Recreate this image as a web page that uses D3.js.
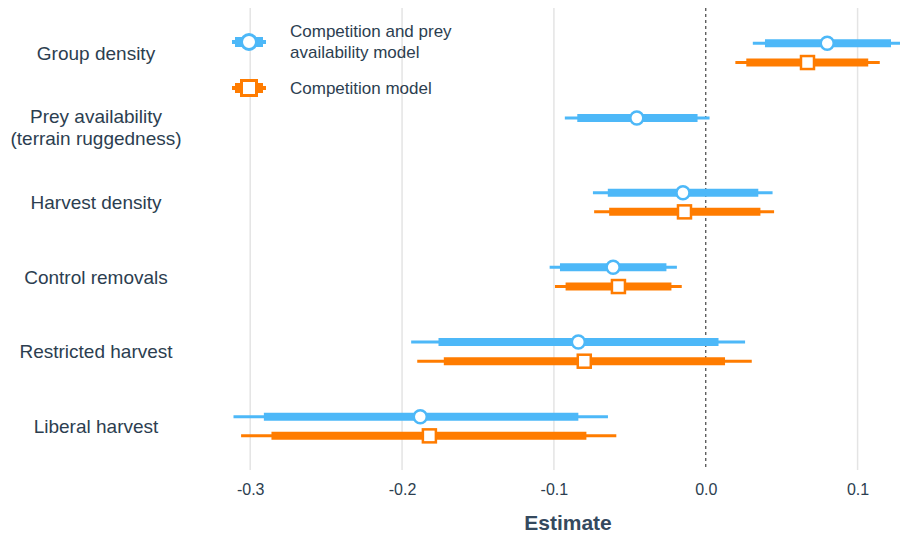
<!DOCTYPE html>
<html>
<head>
<meta charset="utf-8">
<script src="https://cdn.jsdelivr.net/npm/d3@7"></script>
<style>
  html, body { margin: 0; padding: 0; background: #fff; }
  svg { display: block; font-family: "Liberation Sans", Arial, sans-serif; }
</style>
</head>
<body>
<svg id="chart" width="900" height="539"></svg>
<script>
// Predictor labels (top to bottom); multi-line labels split on "\n"
const categories = [
  "Group density",
  "Prey availability\n(terrain ruggedness)",
  "Harvest density",
  "Control removals",
  "Restricted harvest",
  "Liberal harvest"
];

const models = ["Competition and prey availability model", "Competition model"];
const legendLines = [["Competition and prey", "availability model"], ["Competition model"]];
const modelColors = ["#4db8f8", "#ff7c00"];

// Full model: estimate, inner interval (thick), outer interval (thin)
const fullEstimate = [0.080, -0.0454, -0.0150, -0.0610, -0.0839, -0.1880];
const fullInnerLo  = [0.039, -0.0846, -0.0645, -0.0960, -0.1760, -0.2910];
const fullInnerHi  = [0.122, -0.0054,  0.0346, -0.0259,  0.0084, -0.0839];
const fullOuterLo  = [0.031, -0.0928, -0.0743, -0.1028, -0.1940, -0.3110];
const fullOuterHi  = [0.132,  0.0025,  0.0440, -0.0190,  0.0259, -0.0644];

// Competition-only model (no prey availability term)
const compEstimate = [0.067, null, -0.0140, -0.0575, -0.0800, -0.1820];
const compInnerLo  = [0.0267, null, -0.0636, -0.0923, -0.1725, -0.2860];
const compInnerHi  = [0.107,  null,  0.0360, -0.0226,  0.0127, -0.0786];
const compOuterLo  = [0.0195, null, -0.0735, -0.0993, -0.1900, -0.3060];
const compOuterHi  = [0.1146, null,  0.0450, -0.0158,  0.0303, -0.0589];

const xTicks = [-0.3, -0.2, -0.1, 0.0, 0.1];
const xTickLabels = ["-0.3", "-0.2", "-0.1", "0.0", "0.1"];

const svg = d3.select("#chart");
const textColor = "#2c3e50";

const x = d3.scaleLinear().domain([-0.3, 0.1]).range([250.2, 857.6]);
const y = d3.scaleBand().domain(categories).range([15.6, 463.6]);
const offset = d3.scaleOrdinal().domain(models).range([-9.6, 9.6]);

const plotTop = 8, plotBottom = 470;

// vertical gridlines
svg.append("g").selectAll("line").data(xTicks.filter(d => d !== 0)).join("line")
  .attr("x1", d => x(d)).attr("x2", d => x(d))
  .attr("y1", plotTop).attr("y2", plotBottom)
  .attr("stroke", "#e4e4e4").attr("stroke-width", 1.5);

// zero reference line
svg.append("line")
  .attr("x1", x(0)).attr("x2", x(0)).attr("y1", plotTop).attr("y2", plotBottom)
  .attr("stroke", "#444").attr("stroke-width", 1.2).attr("stroke-dasharray", "3,3");

// x axis (labels only)
const xAxis = d3.axisBottom(x).tickValues(xTicks)
  .tickFormat((d, i) => xTickLabels[i]).tickSize(0).tickPadding(0);
const gx = svg.append("g").attr("transform", `translate(0,${484})`).call(xAxis);
gx.select(".domain").remove();
gx.selectAll("text").attr("font-size", 16).attr("fill", textColor)
  .attr("font-family", "'Liberation Sans', Arial, sans-serif")
  .attr("dy", "0.71em");

svg.append("text").attr("x", 568).attr("y", 530)
  .attr("text-anchor", "middle").attr("font-size", 21).attr("font-weight", "bold")
  .attr("fill", "#34495e").text("Estimate");

// category labels
const catG = svg.append("g");
categories.forEach(c => {
  const lines = c.split("\n");
  const cy = y(c) + y.bandwidth() / 2;
  const t = catG.append("text").attr("x", 96).attr("text-anchor", "middle")
    .attr("font-size", 19).attr("fill", textColor);
  lines.forEach((ln, i) => {
    t.append("tspan").attr("x", 96)
      .attr("y", cy + (i - (lines.length - 1) / 2) * 22)
      .attr("dy", "0.35em").text(ln);
  });
});

// assemble rows for drawing
function rows(mi, est, ilo, ihi, olo, ohi) {
  return categories.map((c, i) => ({ c, m: models[mi], mi, est: est[i], ilo: ilo[i], ihi: ihi[i], olo: olo[i], ohi: ohi[i] }))
    .filter(d => d.est !== null);
}
const data = rows(0, fullEstimate, fullInnerLo, fullInnerHi, fullOuterLo, fullOuterHi)
  .concat(rows(1, compEstimate, compInnerLo, compInnerHi, compOuterLo, compOuterHi));

const yy = d => y(d.c) + y.bandwidth() / 2 + offset(d.m);
const marks = svg.append("g");

marks.selectAll("line.outer").data(data).join("line").attr("class", "outer")
  .attr("x1", d => x(d.olo)).attr("x2", d => x(d.ohi))
  .attr("y1", yy).attr("y2", yy)
  .attr("stroke", d => modelColors[d.mi]).attr("stroke-width", 3);

marks.selectAll("line.inner").data(data).join("line").attr("class", "inner")
  .attr("x1", d => x(d.ilo)).attr("x2", d => x(d.ihi))
  .attr("y1", yy).attr("y2", yy)
  .attr("stroke", d => modelColors[d.mi]).attr("stroke-width", 8);

marks.selectAll("circle").data(data.filter(d => d.mi === 0)).join("circle")
  .attr("cx", d => x(d.est)).attr("cy", yy).attr("r", 6.5)
  .attr("fill", "#fff").attr("stroke", modelColors[0]).attr("stroke-width", 2.5);

marks.selectAll("rect").data(data.filter(d => d.mi === 1)).join("rect")
  .attr("x", d => x(d.est) - 6.5).attr("y", d => yy(d) - 6.5)
  .attr("width", 13).attr("height", 13)
  .attr("fill", "#fff").attr("stroke", modelColors[1]).attr("stroke-width", 2.5);

// legend
const leg = svg.append("g");
const legY = [42, 88];
models.forEach((m, i) => {
  const g = leg.append("g").attr("transform", `translate(249,${legY[i]})`);
  g.append("line").attr("x1", -17).attr("x2", 17).attr("stroke", modelColors[i]).attr("stroke-width", 4);
  g.append("line").attr("x1", -14).attr("x2", 14).attr("stroke", modelColors[i]).attr("stroke-width", 10);
  if (i === 0) {
    g.append("circle").attr("r", 7.5).attr("fill", "#fff").attr("stroke", modelColors[i]).attr("stroke-width", 3);
  } else {
    g.append("rect").attr("x", -7.5).attr("y", -7.5).attr("width", 15).attr("height", 15)
      .attr("fill", "#fff").attr("stroke", modelColors[i]).attr("stroke-width", 3);
  }
  const lines = legendLines[i];
  const t = leg.append("text").attr("font-size", 17).attr("fill", textColor);
  lines.forEach((ln, k) => {
    t.append("tspan").attr("x", 290)
      .attr("y", legY[i] + (k - (lines.length - 1) / 2) * 21)
      .attr("dy", "0.35em").text(ln);
  });
});
</script>
</body>
</html>
